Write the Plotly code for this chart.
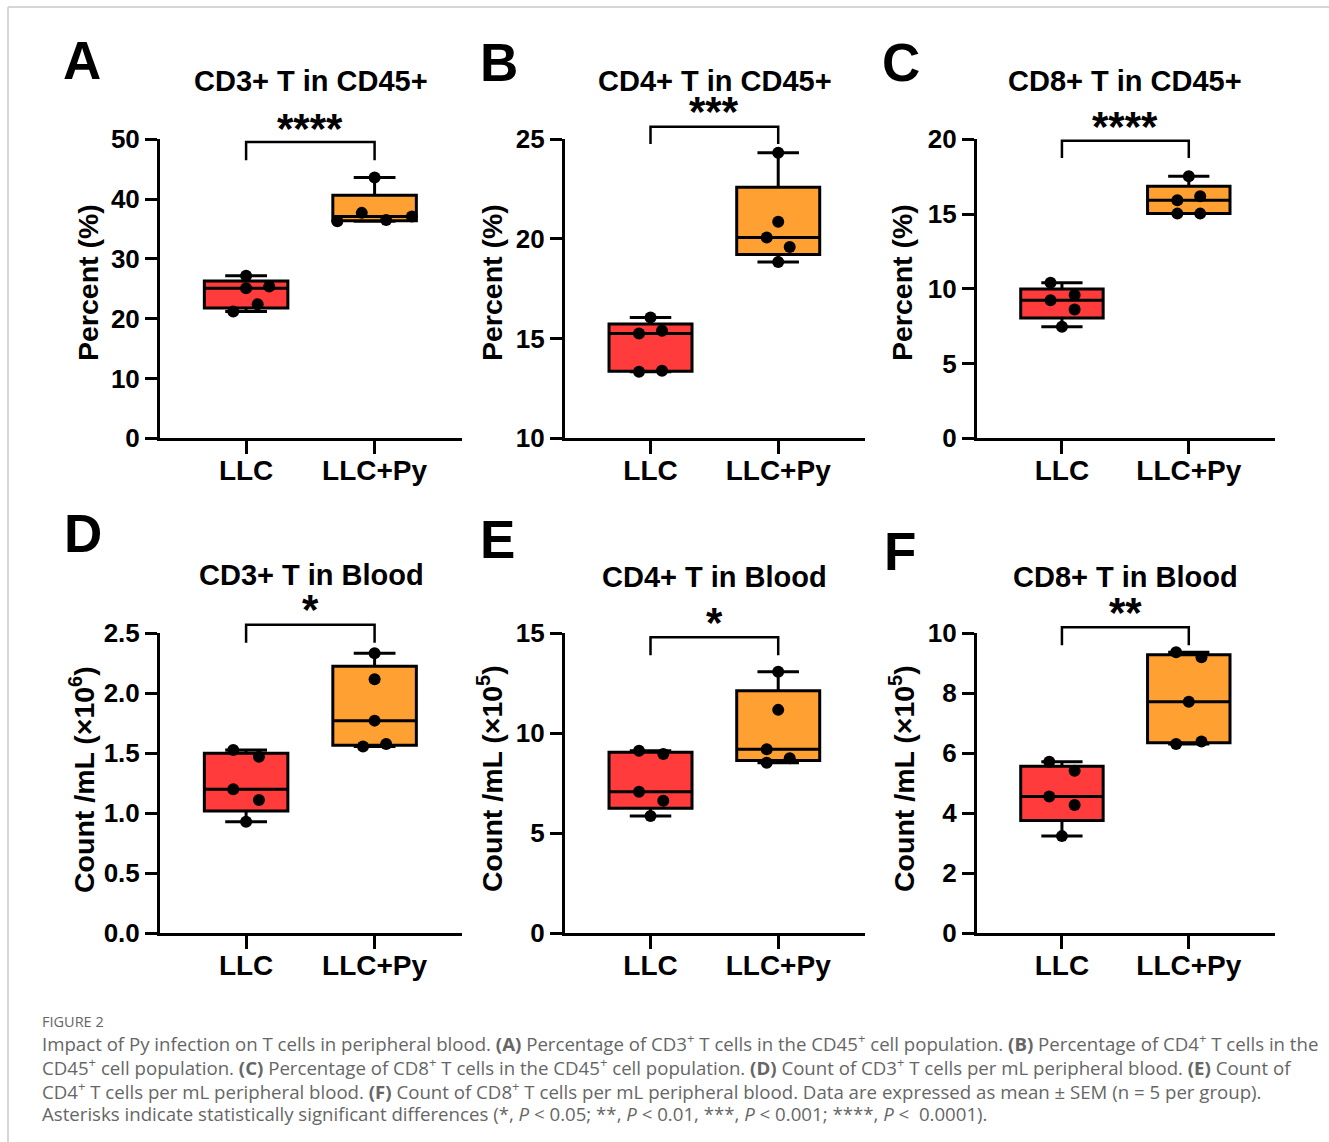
import plotly.graph_objects as go

W, H = 1329, 1142

groups = ["LLC", "LLC+Py"]
titles = ["CD3+ T in CD45+", "CD4+ T in CD45+", "CD8+ T in CD45+",
          "CD3+ T in Blood", "CD4+ T in Blood", "CD8+ T in Blood"]
letters = ["A", "B", "C", "D", "E", "F"]
y_titles = ["Percent (%)", "Percent (%)", "Percent (%)",
            "Count /mL (×10<sup>6</sup>)", "Count /mL (×10<sup>5</sup>)", "Count /mL (×10<sup>5</sup>)"]
stars = ["****", "***", "****", "*", "*", "**"]

# values per panel (LLC, LLC+Py)
a_llc = [27.2, 25.1, 25.4, 22.4, 21.2]
a_py = [43.6, 37.7, 36.3, 36.5, 37.1]
b_llc = [16.06, 15.26, 15.4, 13.34, 13.39]
b_py = [24.33, 20.86, 20.07, 19.6, 18.85]
c_llc = [10.4, 9.24, 9.58, 8.62, 7.46]
c_py = [17.53, 15.92, 16.19, 15.03, 15.03]
d_llc = [1.528, 1.472, 1.2, 1.11, 0.93]
d_py = [2.333, 2.117, 1.772, 1.556, 1.578]
e_llc = [9.13, 8.97, 7.08, 6.63, 5.87]
e_py = [13.08, 11.17, 9.2, 8.53, 8.75]
f_llc = [5.72, 5.42, 4.56, 4.28, 3.24]
f_py = [9.37, 9.2, 7.72, 6.31, 6.39]
llc_values = [a_llc, b_llc, c_llc, d_llc, e_llc, f_llc]
py_values = [a_py, b_py, c_py, d_py, e_py, f_py]

# axis settings
y_ranges = [[0, 50], [10, 25], [0, 20], [0, 2.5], [0, 15], [0, 10]]
y_dticks = [10, 5, 5, 0.5, 5, 2]
y_formats = ["d", "d", "d", ".1f", "d", "d"]

# significance brackets (data units)
bracket_top = [49.55, 25.63, 19.9, 2.57, 14.8, 10.2]
bracket_leg = [46.5, 24.77, 18.75, 2.42, 13.9, 9.6]
star_y = [52.7, 26.67, 21.2, 2.74, 15.8, 10.85]

# horizontal spread of dots (style only)
llc_spread = [[0, 0, 0.18, 0.09, -0.10], [0, -0.09, 0.09, -0.09, 0.09],
              [-0.09, -0.09, 0.1, 0.1, 0], [-0.1, 0.1, -0.1, 0.1, 0],
              [-0.09, 0.1, -0.09, 0.1, 0], [-0.1, 0.1, -0.1, 0.1, 0]]
py_spread = [[0, -0.1, -0.29, 0.09, 0.29], [0, 0, -0.09, 0.09, 0],
             [0, -0.09, 0.09, -0.09, 0.09], [0, 0, 0, -0.09, 0.09],
             [0, 0, -0.09, -0.09, 0.09], [-0.1, 0.1, 0, -0.1, 0.1]]

RED = "#FF3B3B"
ORANGE = "#FFA032"
FONT = "Liberation Sans, Arial, sans-serif"

X_RANGE = [-0.67, 1.68]
xdoms = [[0.1204, 0.3476], [0.4251, 0.6509], [0.7351, 0.9594]]
ydoms = [[0.6162, 0.8780], [0.1827, 0.4455]]


def px(x):
    return x / W


def py(y):
    return 1 - y / H


fig = go.Figure()
annotations = []
shapes = []

letter_pos = [(82, 61), (499, 62), (901, 62), (83, 533), (497, 540), (900, 551)]
title_pos = [(311, 81), (715, 81), (1125, 81), (311, 575), (714, 577), (1125, 577)]
ytitle_pos = [(88, 283), (492, 283), (902, 283), (82, 780), (490, 779), (902, 779)]

for i in range(6):
    s = "" if i == 0 else str(i + 1)
    xa, ya = "x" + s, "y" + s
    for g, (vals, spread, col) in enumerate([(llc_values[i], llc_spread[i], RED),
                                             (py_values[i], py_spread[i], ORANGE)]):
        fig.add_trace(go.Box(
            x=[g] * len(vals), y=vals, xaxis=xa, yaxis=ya,
            boxpoints=False, quartilemethod="exclusive",
            fillcolor=col, line=dict(color="black", width=3),
            width=0.65, whiskerwidth=0.5, showlegend=False, hoverinfo="y"))
        fig.add_trace(go.Scatter(
            x=[g + d for d in spread], y=vals, xaxis=xa, yaxis=ya,
            mode="markers", marker=dict(color="black", size=12),
            cliponaxis=False, showlegend=False))
    r, c = divmod(i, 3)
    axis_common = dict(showline=True, linecolor="black", linewidth=3,
                       ticks="outside", tickwidth=3, tickcolor="black",
                       showgrid=False, zeroline=False, fixedrange=True,
                       automargin=False)
    fig.layout["xaxis" + s] = dict(
        domain=xdoms[c], anchor=ya, range=X_RANGE,
        tickvals=[0, 1], ticktext=groups, ticklen=13, ticklabelstandoff=-8,
        tickfont=dict(family=FONT, size=28, color="black", weight="bold"),
        **axis_common)
    fig.layout["yaxis" + s] = dict(
        domain=ydoms[r], anchor=xa, range=y_ranges[i], dtick=y_dticks[i],
        tick0=y_ranges[i][0], tickformat=y_formats[i], ticklen=12,
        tickfont=dict(family=FONT, size=26, color="black", weight="bold"),
        **axis_common)

    # bracket and stars in axis-domain coordinates (so they may sit above the range)
    y0, y1 = y_ranges[i]

    def xd(v):
        return (v - X_RANGE[0]) / (X_RANGE[1] - X_RANGE[0])

    def yd(v):
        return (v - y0) / (y1 - y0)

    shapes.append(dict(
        type="path", xref=xa + " domain", yref=ya + " domain",
        path=f"M {xd(0)},{yd(bracket_leg[i])} L {xd(0)},{yd(bracket_top[i])} "
             f"L {xd(1)},{yd(bracket_top[i])} L {xd(1)},{yd(bracket_leg[i])}",
        line=dict(color="black", width=2.5)))
    annotations.append(dict(
        x=xd(0.5), y=yd(star_y[i]), xref=xa + " domain", yref=ya + " domain",
        text=stars[i], showarrow=False, yshift=-5,
        xanchor="center", yanchor="middle",
        font=dict(family=FONT, size=42, color="black", weight="bold")))
    # panel letter
    lx, ly = letter_pos[i]
    annotations.append(dict(
        x=px(lx), y=py(ly), xref="paper", yref="paper", text=letters[i],
        showarrow=False, xanchor="center", yanchor="middle",
        font=dict(family=FONT, size=53, color="black", weight="bold")))
    tx, ty = title_pos[i]
    annotations.append(dict(
        x=px(tx), y=py(ty), xref="paper", yref="paper", text=titles[i],
        showarrow=False, xanchor="center", yanchor="middle",
        font=dict(family=FONT, size=29, color="black", weight="bold")))
    ax, ay = ytitle_pos[i]
    annotations.append(dict(
        x=px(ax), y=py(ay), xref="paper", yref="paper", text=y_titles[i],
        showarrow=False, xanchor="center", yanchor="middle", textangle=-90,
        font=dict(family=FONT, size=28.5, color="black", weight="bold")))

# caption
CAP_FONT = "Open Sans, Noto Sans, sans-serif"
CAP_COLOR = "#666666"
caption_lines = [
    "Impact of Py infection on T cells in peripheral blood. <b>(A)</b> Percentage of CD3<sup>+</sup> T cells in the CD45<sup>+</sup> cell population. <b>(B)</b> Percentage of CD4<sup>+</sup> T cells in the",
    "CD45<sup>+</sup> cell population. <b>(C)</b> Percentage of CD8<sup>+</sup> T cells in the CD45<sup>+</sup> cell population. <b>(D)</b> Count of CD3<sup>+</sup> T cells per mL peripheral blood. <b>(E)</b> Count of",
    "CD4<sup>+</sup> T cells per mL peripheral blood. <b>(F)</b> Count of CD8<sup>+</sup> T cells per mL peripheral blood. Data are expressed as mean ± SEM (n = 5 per group).",
    "Asterisks indicate statistically significant differences (*, <i>P</i> &lt; 0.05; **, <i>P</i> &lt; 0.01, ***, <i>P</i> &lt; 0.001; ****, <i>P</i> &lt;  0.0001).",
]
caption_y = [1042, 1066, 1090, 1113]
annotations.append(dict(
    x=px(40), y=py(1021), xref="paper", yref="paper", text="FIGURE 2",
    showarrow=False, xanchor="left", yanchor="middle",
    font=dict(family=CAP_FONT, size=14.5, color=CAP_COLOR)))
for txt, yy in zip(caption_lines, caption_y):
    annotations.append(dict(
        x=px(40), y=py(yy), xref="paper", yref="paper", text=txt,
        showarrow=False, xanchor="left", yanchor="middle",
        font=dict(family=CAP_FONT, size=18.65, color=CAP_COLOR)))

# thin frame lines
shapes.append(dict(type="line", xref="paper", yref="paper", x0=px(8), x1=1, y0=py(7), y1=py(7),
                   line=dict(color="#c8c8c8", width=1.5)))
shapes.append(dict(type="line", xref="paper", yref="paper", x0=px(8), x1=px(8), y0=py(7), y1=0,
                   line=dict(color="#c8c8c8", width=1.5)))

fig.update_layout(
    width=W, height=H, margin=dict(l=0, r=0, t=0, b=0, pad=0, autoexpand=False),
    paper_bgcolor="white", plot_bgcolor="white",
    annotations=annotations, shapes=shapes, showlegend=False)

fig.write_html("out.html", config={"displayModeBar": False},
               post_script="document.body.style.margin='0';document.body.style.overflow='hidden';")
